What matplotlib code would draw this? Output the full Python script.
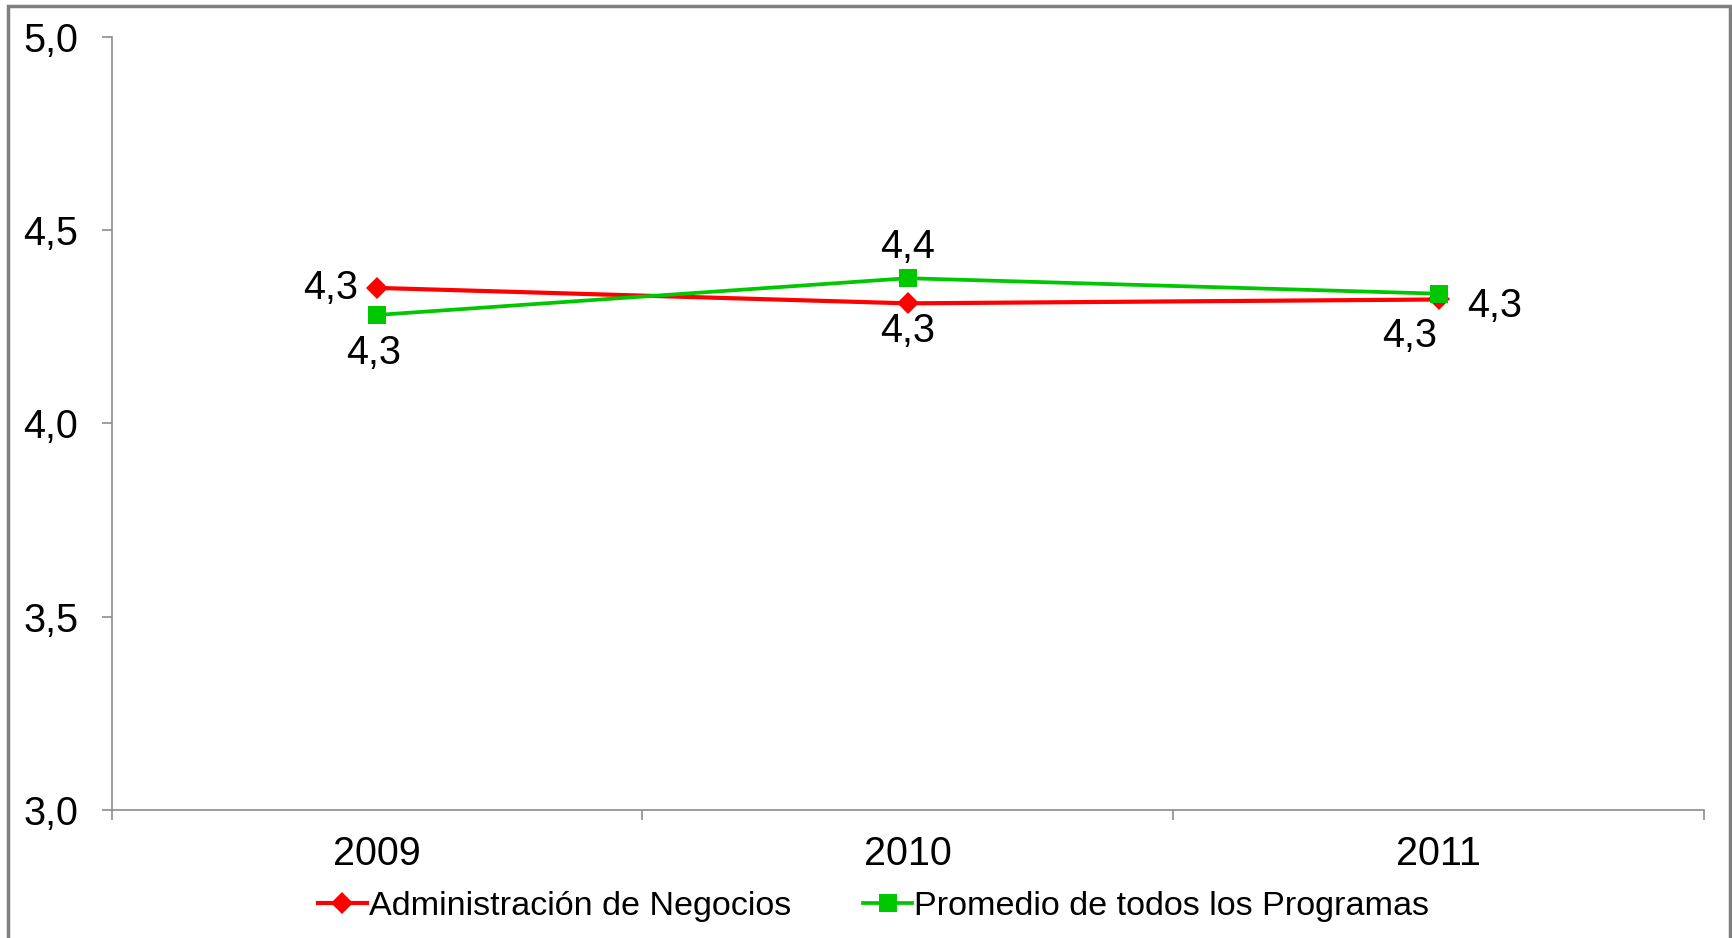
import matplotlib
matplotlib.use("Agg")
import matplotlib.pyplot as plt
from matplotlib.patches import Rectangle

plt.rcParams['font.family'] = ['Liberation Sans', 'DejaVu Sans']

years = ["2009", "2010", "2011"]
admin = [4.35, 4.31, 4.32]
promedio = [4.28, 4.375, 4.335]
admin_labels = ["4,3", "4,3", "4,3"]
prom_labels = ["4,3", "4,4", "4,3"]
yticks = [3.0, 3.5, 4.0, 4.5, 5.0]
ytick_labels = ["3,0", "3,5", "4,0", "4,5", "5,0"]

W, H = 1733, 938
fig = plt.figure(figsize=(W / 100, H / 100), dpi=100)
ax = fig.add_axes([111.6 / W, 1 - 810 / H, (1704 - 111.6) / W, (810 - 36.5) / H])

axis_col = "#8c8c8c"
red = "#FF0000"
green = "#00C800"

x = list(range(len(years)))
ax.plot(x, admin, color=red, lw=3.0, marker="D", markersize=11,
        markeredgewidth=0, label="Administración de Negocios", zorder=3)
ax.plot(x, promedio, color=green, lw=2.7, marker="s", markersize=13.5,
        markeredgewidth=0, label="Promedio de todos los Programas", zorder=4)

fs = 28.5
admin_off = [(-46, 0), (0, -28), (-29, -37)]
prom_off = [(-3, -38), (0, 31), (56, -12)]
for i in x:
    ax.annotate(admin_labels[i], (x[i], admin[i]), xytext=admin_off[i],
                textcoords="offset pixels", ha="center", va="center", fontsize=fs)
    ax.annotate(prom_labels[i], (x[i], promedio[i]), xytext=prom_off[i],
                textcoords="offset pixels", ha="center", va="center", fontsize=fs)

ax.set_xlim(-0.5, 2.5)
ax.set_ylim(3.0, 5.0)
ax.set_yticks(yticks)
ax.set_yticklabels(ytick_labels, fontsize=fs)
ax.tick_params(axis="y", direction="out", length=7, width=1.2, color=axis_col, pad=17)

ax.set_xticks([-0.5, 0.5, 1.5, 2.5])
ax.set_xticklabels([])
ax.tick_params(axis="x", which="major", direction="out", length=7, width=1.2, color=axis_col)
ax.set_xticks(x, minor=True)
ax.set_xticklabels(years, minor=True, fontsize=fs)
ax.tick_params(axis="x", which="minor", length=0, pad=18)

for s in ["top", "right"]:
    ax.spines[s].set_visible(False)
for s in ["left", "bottom"]:
    ax.spines[s].set_color(axis_col)
    ax.spines[s].set_linewidth(1.2)

leg = fig.legend(loc="center", bbox_to_anchor=(0.504, 1 - 906 / H), ncol=2,
                 frameon=False, fontsize=24.6, handlelength=1.45, handletextpad=0.05,
                 columnspacing=2.1)

fig.patches.append(Rectangle((8 / W, -0.05), (1730 - 8) / W, 1 - 6 / H + 0.05,
                             transform=fig.transFigure, fill=False,
                             edgecolor="#7f7f7f", lw=2.5))

fig.savefig("out.png", dpi=100)
